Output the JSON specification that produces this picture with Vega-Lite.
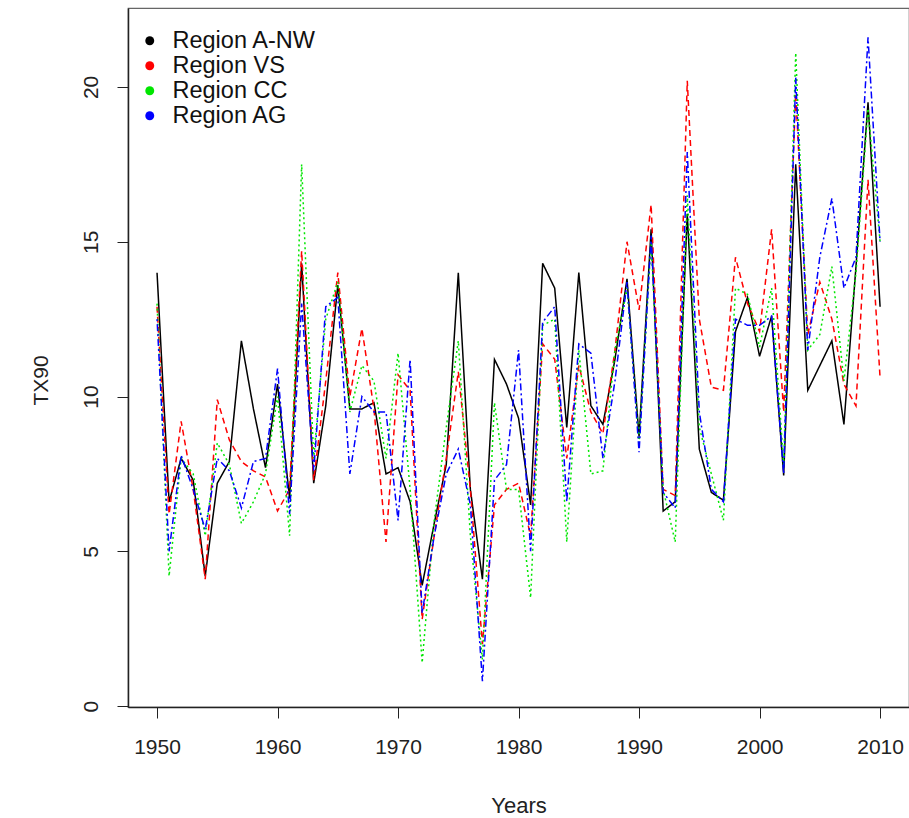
{
  "$schema": "https://vega.github.io/schema/vega-lite/v6.json",
  "autosize": {"type": "none"},
  "padding": {"left": 128, "top": 8, "right": 0, "bottom": 111},
  "width": 781,
  "height": 699,
  "background": "white",
  "config": {
    "view": {"stroke": "#666666", "strokeWidth": 1.2},
    "font": "Liberation Sans"
  },
  "data": {
    "values": [
      {"year":1950,"region":"Region A-NW","TX90":14.0},{"year":1951,"region":"Region A-NW","TX90":6.6},{"year":1952,"region":"Region A-NW","TX90":8.0},{"year":1953,"region":"Region A-NW","TX90":7.3},{"year":1954,"region":"Region A-NW","TX90":4.2},{"year":1955,"region":"Region A-NW","TX90":7.2},{"year":1956,"region":"Region A-NW","TX90":7.9},{"year":1957,"region":"Region A-NW","TX90":11.8},{"year":1958,"region":"Region A-NW","TX90":9.6},{"year":1959,"region":"Region A-NW","TX90":7.7},{"year":1960,"region":"Region A-NW","TX90":10.4},{"year":1961,"region":"Region A-NW","TX90":6.7},{"year":1962,"region":"Region A-NW","TX90":14.3},{"year":1963,"region":"Region A-NW","TX90":7.2},{"year":1964,"region":"Region A-NW","TX90":9.7},{"year":1965,"region":"Region A-NW","TX90":13.6},{"year":1966,"region":"Region A-NW","TX90":9.6},{"year":1967,"region":"Region A-NW","TX90":9.6},{"year":1968,"region":"Region A-NW","TX90":9.8},{"year":1969,"region":"Region A-NW","TX90":7.5},{"year":1970,"region":"Region A-NW","TX90":7.7},{"year":1971,"region":"Region A-NW","TX90":6.6},{"year":1972,"region":"Region A-NW","TX90":3.9},{"year":1973,"region":"Region A-NW","TX90":5.9},{"year":1974,"region":"Region A-NW","TX90":7.8},{"year":1975,"region":"Region A-NW","TX90":14.0},{"year":1976,"region":"Region A-NW","TX90":7.0},{"year":1977,"region":"Region A-NW","TX90":4.1},{"year":1978,"region":"Region A-NW","TX90":11.2},{"year":1979,"region":"Region A-NW","TX90":10.4},{"year":1980,"region":"Region A-NW","TX90":9.3},{"year":1981,"region":"Region A-NW","TX90":6.5},{"year":1982,"region":"Region A-NW","TX90":14.3},{"year":1983,"region":"Region A-NW","TX90":13.5},{"year":1984,"region":"Region A-NW","TX90":9.0},{"year":1985,"region":"Region A-NW","TX90":14.0},{"year":1986,"region":"Region A-NW","TX90":9.7},{"year":1987,"region":"Region A-NW","TX90":9.1},{"year":1988,"region":"Region A-NW","TX90":11.2},{"year":1989,"region":"Region A-NW","TX90":13.8},{"year":1990,"region":"Region A-NW","TX90":8.7},{"year":1991,"region":"Region A-NW","TX90":15.4},{"year":1992,"region":"Region A-NW","TX90":6.3},{"year":1993,"region":"Region A-NW","TX90":6.6},{"year":1994,"region":"Region A-NW","TX90":15.9},{"year":1995,"region":"Region A-NW","TX90":8.3},{"year":1996,"region":"Region A-NW","TX90":6.9},{"year":1997,"region":"Region A-NW","TX90":6.65},{"year":1998,"region":"Region A-NW","TX90":12.1},{"year":1999,"region":"Region A-NW","TX90":13.2},{"year":2000,"region":"Region A-NW","TX90":11.3},{"year":2001,"region":"Region A-NW","TX90":12.6},{"year":2002,"region":"Region A-NW","TX90":7.45},{"year":2003,"region":"Region A-NW","TX90":17.5},{"year":2004,"region":"Region A-NW","TX90":10.2},{"year":2005,"region":"Region A-NW","TX90":11.0},{"year":2006,"region":"Region A-NW","TX90":11.8},{"year":2007,"region":"Region A-NW","TX90":9.1},{"year":2008,"region":"Region A-NW","TX90":14.2},{"year":2009,"region":"Region A-NW","TX90":19.5},{"year":2010,"region":"Region A-NW","TX90":12.9},

      {"year":1950,"region":"Region VS","TX90":12.9},{"year":1951,"region":"Region VS","TX90":6.2},{"year":1952,"region":"Region VS","TX90":9.2},{"year":1953,"region":"Region VS","TX90":7.0},{"year":1954,"region":"Region VS","TX90":4.1},{"year":1955,"region":"Region VS","TX90":9.9},{"year":1956,"region":"Region VS","TX90":8.6},{"year":1957,"region":"Region VS","TX90":7.9},{"year":1958,"region":"Region VS","TX90":7.6},{"year":1959,"region":"Region VS","TX90":7.4},{"year":1960,"region":"Region VS","TX90":6.3},{"year":1961,"region":"Region VS","TX90":7.0},{"year":1962,"region":"Region VS","TX90":14.7},{"year":1963,"region":"Region VS","TX90":7.3},{"year":1964,"region":"Region VS","TX90":10.5},{"year":1965,"region":"Region VS","TX90":14.0},{"year":1966,"region":"Region VS","TX90":10.0},{"year":1967,"region":"Region VS","TX90":12.2},{"year":1968,"region":"Region VS","TX90":9.6},{"year":1969,"region":"Region VS","TX90":5.3},{"year":1970,"region":"Region VS","TX90":10.7},{"year":1971,"region":"Region VS","TX90":10.2},{"year":1972,"region":"Region VS","TX90":2.8},{"year":1973,"region":"Region VS","TX90":5.5},{"year":1974,"region":"Region VS","TX90":8.0},{"year":1975,"region":"Region VS","TX90":10.8},{"year":1976,"region":"Region VS","TX90":7.0},{"year":1977,"region":"Region VS","TX90":2.0},{"year":1978,"region":"Region VS","TX90":6.5},{"year":1979,"region":"Region VS","TX90":7.0},{"year":1980,"region":"Region VS","TX90":7.2},{"year":1981,"region":"Region VS","TX90":5.5},{"year":1982,"region":"Region VS","TX90":11.7},{"year":1983,"region":"Region VS","TX90":11.2},{"year":1984,"region":"Region VS","TX90":8.0},{"year":1985,"region":"Region VS","TX90":11.0},{"year":1986,"region":"Region VS","TX90":9.5},{"year":1987,"region":"Region VS","TX90":8.8},{"year":1988,"region":"Region VS","TX90":11.5},{"year":1989,"region":"Region VS","TX90":15.0},{"year":1990,"region":"Region VS","TX90":12.8},{"year":1991,"region":"Region VS","TX90":16.2},{"year":1992,"region":"Region VS","TX90":7.0},{"year":1993,"region":"Region VS","TX90":6.8},{"year":1994,"region":"Region VS","TX90":20.2},{"year":1995,"region":"Region VS","TX90":12.5},{"year":1996,"region":"Region VS","TX90":10.3},{"year":1997,"region":"Region VS","TX90":10.2},{"year":1998,"region":"Region VS","TX90":14.5},{"year":1999,"region":"Region VS","TX90":13.0},{"year":2000,"region":"Region VS","TX90":12.1},{"year":2001,"region":"Region VS","TX90":15.4},{"year":2002,"region":"Region VS","TX90":9.5},{"year":2003,"region":"Region VS","TX90":19.8},{"year":2004,"region":"Region VS","TX90":12.0},{"year":2005,"region":"Region VS","TX90":13.7},{"year":2006,"region":"Region VS","TX90":12.5},{"year":2007,"region":"Region VS","TX90":10.4},{"year":2008,"region":"Region VS","TX90":9.7},{"year":2009,"region":"Region VS","TX90":17.0},{"year":2010,"region":"Region VS","TX90":10.6},

      {"year":1950,"region":"Region CC","TX90":13.0},{"year":1951,"region":"Region CC","TX90":4.2},{"year":1952,"region":"Region CC","TX90":8.0},{"year":1953,"region":"Region CC","TX90":7.5},{"year":1954,"region":"Region CC","TX90":5.5},{"year":1955,"region":"Region CC","TX90":8.5},{"year":1956,"region":"Region CC","TX90":7.8},{"year":1957,"region":"Region CC","TX90":5.9},{"year":1958,"region":"Region CC","TX90":6.6},{"year":1959,"region":"Region CC","TX90":7.5},{"year":1960,"region":"Region CC","TX90":10.0},{"year":1961,"region":"Region CC","TX90":5.5},{"year":1962,"region":"Region CC","TX90":17.5},{"year":1963,"region":"Region CC","TX90":8.0},{"year":1964,"region":"Region CC","TX90":12.5},{"year":1965,"region":"Region CC","TX90":13.7},{"year":1966,"region":"Region CC","TX90":9.5},{"year":1967,"region":"Region CC","TX90":11.0},{"year":1968,"region":"Region CC","TX90":10.5},{"year":1969,"region":"Region CC","TX90":8.0},{"year":1970,"region":"Region CC","TX90":11.4},{"year":1971,"region":"Region CC","TX90":7.0},{"year":1972,"region":"Region CC","TX90":1.4},{"year":1973,"region":"Region CC","TX90":6.0},{"year":1974,"region":"Region CC","TX90":9.0},{"year":1975,"region":"Region CC","TX90":11.8},{"year":1976,"region":"Region CC","TX90":5.5},{"year":1977,"region":"Region CC","TX90":1.5},{"year":1978,"region":"Region CC","TX90":9.8},{"year":1979,"region":"Region CC","TX90":7.0},{"year":1980,"region":"Region CC","TX90":7.0},{"year":1981,"region":"Region CC","TX90":3.5},{"year":1982,"region":"Region CC","TX90":12.3},{"year":1983,"region":"Region CC","TX90":12.5},{"year":1984,"region":"Region CC","TX90":5.3},{"year":1985,"region":"Region CC","TX90":11.5},{"year":1986,"region":"Region CC","TX90":7.5},{"year":1987,"region":"Region CC","TX90":7.6},{"year":1988,"region":"Region CC","TX90":11.5},{"year":1989,"region":"Region CC","TX90":13.5},{"year":1990,"region":"Region CC","TX90":8.5},{"year":1991,"region":"Region CC","TX90":15.0},{"year":1992,"region":"Region CC","TX90":7.0},{"year":1993,"region":"Region CC","TX90":5.3},{"year":1994,"region":"Region CC","TX90":16.5},{"year":1995,"region":"Region CC","TX90":9.0},{"year":1996,"region":"Region CC","TX90":7.5},{"year":1997,"region":"Region CC","TX90":6.0},{"year":1998,"region":"Region CC","TX90":13.5},{"year":1999,"region":"Region CC","TX90":13.3},{"year":2000,"region":"Region CC","TX90":11.6},{"year":2001,"region":"Region CC","TX90":13.5},{"year":2002,"region":"Region CC","TX90":7.8},{"year":2003,"region":"Region CC","TX90":21.1},{"year":2004,"region":"Region CC","TX90":11.5},{"year":2005,"region":"Region CC","TX90":12.0},{"year":2006,"region":"Region CC","TX90":14.2},{"year":2007,"region":"Region CC","TX90":10.5},{"year":2008,"region":"Region CC","TX90":14.0},{"year":2009,"region":"Region CC","TX90":19.3},{"year":2010,"region":"Region CC","TX90":15.0},

      {"year":1950,"region":"Region AG","TX90":12.5},{"year":1951,"region":"Region AG","TX90":5.0},{"year":1952,"region":"Region AG","TX90":8.1},{"year":1953,"region":"Region AG","TX90":7.0},{"year":1954,"region":"Region AG","TX90":5.7},{"year":1955,"region":"Region AG","TX90":8.0},{"year":1956,"region":"Region AG","TX90":7.6},{"year":1957,"region":"Region AG","TX90":6.4},{"year":1958,"region":"Region AG","TX90":7.9},{"year":1959,"region":"Region AG","TX90":8.0},{"year":1960,"region":"Region AG","TX90":10.9},{"year":1961,"region":"Region AG","TX90":6.2},{"year":1962,"region":"Region AG","TX90":13.0},{"year":1963,"region":"Region AG","TX90":7.6},{"year":1964,"region":"Region AG","TX90":12.9},{"year":1965,"region":"Region AG","TX90":13.2},{"year":1966,"region":"Region AG","TX90":7.5},{"year":1967,"region":"Region AG","TX90":10.0},{"year":1968,"region":"Region AG","TX90":9.5},{"year":1969,"region":"Region AG","TX90":9.5},{"year":1970,"region":"Region AG","TX90":6.0},{"year":1971,"region":"Region AG","TX90":11.2},{"year":1972,"region":"Region AG","TX90":3.0},{"year":1973,"region":"Region AG","TX90":5.5},{"year":1974,"region":"Region AG","TX90":7.5},{"year":1975,"region":"Region AG","TX90":8.3},{"year":1976,"region":"Region AG","TX90":6.5},{"year":1977,"region":"Region AG","TX90":0.8},{"year":1978,"region":"Region AG","TX90":7.3},{"year":1979,"region":"Region AG","TX90":7.8},{"year":1980,"region":"Region AG","TX90":11.5},{"year":1981,"region":"Region AG","TX90":5.0},{"year":1982,"region":"Region AG","TX90":12.4},{"year":1983,"region":"Region AG","TX90":12.9},{"year":1984,"region":"Region AG","TX90":6.6},{"year":1985,"region":"Region AG","TX90":11.7},{"year":1986,"region":"Region AG","TX90":11.4},{"year":1987,"region":"Region AG","TX90":8.0},{"year":1988,"region":"Region AG","TX90":10.5},{"year":1989,"region":"Region AG","TX90":13.7},{"year":1990,"region":"Region AG","TX90":8.2},{"year":1991,"region":"Region AG","TX90":15.2},{"year":1992,"region":"Region AG","TX90":6.9},{"year":1993,"region":"Region AG","TX90":6.4},{"year":1994,"region":"Region AG","TX90":17.9},{"year":1995,"region":"Region AG","TX90":9.5},{"year":1996,"region":"Region AG","TX90":7.0},{"year":1997,"region":"Region AG","TX90":6.6},{"year":1998,"region":"Region AG","TX90":12.5},{"year":1999,"region":"Region AG","TX90":12.3},{"year":2000,"region":"Region AG","TX90":12.3},{"year":2001,"region":"Region AG","TX90":12.6},{"year":2002,"region":"Region AG","TX90":7.5},{"year":2003,"region":"Region AG","TX90":20.3},{"year":2004,"region":"Region AG","TX90":11.5},{"year":2005,"region":"Region AG","TX90":14.5},{"year":2006,"region":"Region AG","TX90":16.4},{"year":2007,"region":"Region AG","TX90":13.5},{"year":2008,"region":"Region AG","TX90":14.5},{"year":2009,"region":"Region AG","TX90":21.6},{"year":2010,"region":"Region AG","TX90":15.0}
    ]
  },
  "mark": {"type": "line", "strokeWidth": 1.5, "clip": true},
  "encoding": {
    "x": {
      "field": "year", "type": "quantitative", "title": "Years",
      "scale": {"domain": [1947.59, 2012.4], "nice": false, "zero": false},
      "axis": {
        "values": [1950, 1960, 1970, 1980, 1990, 2000, 2010], "format": "d",
        "grid": false, "tickSize": 11, "tickColor": "#222", "domainColor": "#222", "domainWidth": 1.5,
        "labelFontSize": 21, "labelColor": "#222", "labelPadding": 18,
        "titleFontSize": 22, "titleFontWeight": "normal", "titleColor": "#222", "titlePadding": 38
      }
    },
    "y": {
      "field": "TX90", "type": "quantitative", "title": "TX90",
      "scale": {"domain": [-0.03, 22.55], "nice": false, "zero": false},
      "axis": {
        "values": [0, 5, 10, 15, 20], "grid": false, "tickSize": 11, "tickColor": "#222",
        "domainColor": "#222", "domainWidth": 1.5,
        "labelAngle": -90, "labelAlign": "center", "labelBaseline": "bottom",
        "labelFontSize": 21, "labelColor": "#222", "labelPadding": 16,
        "titleFontSize": 21, "titleFontWeight": "normal", "titleColor": "#222", "titlePadding": 29,
        "titleY": 372
      }
    },
    "color": {
      "field": "region", "type": "nominal",
      "scale": {
        "domain": ["Region A-NW", "Region VS", "Region CC", "Region AG"],
        "range": ["#000000", "#ff0000", "#00e600", "#0000ff"]
      },
      "legend": {
        "title": null, "orient": "none", "legendX": 10, "legendY": 21,
        "symbolType": "circle", "symbolSize": 80, "symbolStrokeWidth": 0,
        "labelFontSize": 23.5, "labelColor": "#111", "labelOffset": 11,
        "rowPadding": 0, "padding": 0, "symbolDash": [],
        "encode": {"symbols": {"update": {"fill": {"scale": "color", "field": "value"}, "fillOpacity": {"value": 1}}}}
      }
    },
    "strokeDash": {
      "field": "region", "type": "nominal",
      "scale": {
        "domain": ["Region A-NW", "Region VS", "Region CC", "Region AG"],
        "range": [[1, 0], [6, 4], [2, 3], [2, 3, 7, 3]]
      },
      "legend": null
    }
  }
}
